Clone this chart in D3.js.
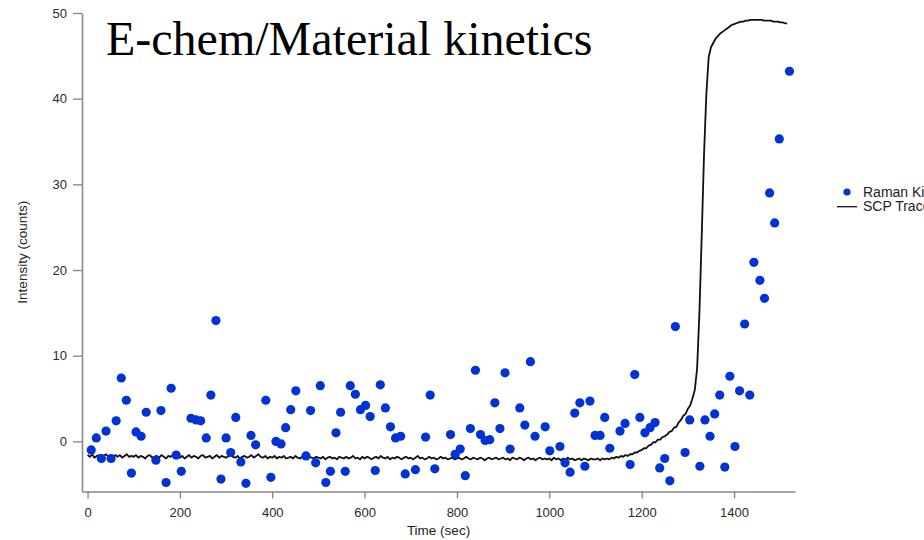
<!DOCTYPE html>
<html>
<head>
<meta charset="utf-8">
<script src="https://cdn.jsdelivr.net/npm/d3@7"></script>
<style>
  html, body { margin: 0; padding: 0; background: #fff; }
  svg { display: block; }
</style>
</head>
<body>
<svg id="chart" width="924" height="540"></svg>
<script>
// Raman kinetics: sample times (sec) and intensities (counts)
const ramanTime = [
  8, 19, 30, 40, 51, 62, 73, 84, 95, 105, 116, 127, 148, 159, 170, 181, 192, 203,
  224, 235, 245, 257, 267, 278, 289, 300, 310, 321, 332, 343, 354, 364, 386, 397,
  408, 419, 429, 440, 451, 473, 483, 494, 504, 516, 526, 538, 548, 558, 569, 580,
  591, 602, 612, 623, 634, 645, 656, 667, 678, 688, 710, 732, 742, 752, 786, 796,
  807, 818, 829, 840, 851, 861, 871, 882, 893, 904, 915, 936, 947, 959, 969, 991,
  1001, 1023, 1034, 1045, 1055, 1066, 1077, 1088, 1099, 1110, 1120, 1131, 1153,
  1164, 1175, 1185, 1196, 1207, 1218, 1229, 1239, 1250, 1261, 1273, 1294, 1304,
  1326, 1337, 1348, 1358, 1369, 1380, 1391, 1402, 1412, 1423, 1434, 1443, 1456,
  1466, 1477, 1488, 1498, 1520
];
const ramanCounts = [
  -1.0, 0.4, -2.0, 1.2, -2.0, 2.4, 7.4, 4.8, -3.7, 1.1, 0.6, 3.4, -2.2, 3.6, -4.8, 6.2, -1.6, -3.5,
  2.7, 2.5, 2.4, 0.4, 5.4, 14.1, -4.4, 0.4, -1.3, 2.8, -2.4, -4.9, 0.7, -0.4, 4.8, -4.2,
  0.0, -0.3, 1.6, 3.7, 5.9, -1.7, 3.6, -2.5, 6.5, -4.8, -3.5, 1.0, 3.4, -3.5, 6.5, 5.5,
  3.7, 4.2, 2.9, -3.4, 6.6, 3.9, 1.7, 0.4, 0.6, -3.8, -3.3, 0.5, 5.4, -3.2, 0.8, -1.5,
  -0.9, -4.0, 1.5, 8.3, 0.8, 0.1, 0.2, 4.5, 1.5, 8.0, -0.9, 3.9, 1.9, 9.3, 0.6, 1.7,
  -1.1, -0.6, -2.5, -3.6, 3.3, 4.5, -2.9, 4.7, 0.7, 0.7, 2.8, -0.8, 1.2,
  2.1, -2.7, 7.8, 2.8, 1.0, 1.6, 2.2, -3.1, -2.0, -4.6, 13.4, -1.3, 2.5,
  -2.9, 2.5, 0.6, 3.2, 5.4, -3.0, 7.6, -0.6, 5.9, 13.7, 5.4, 20.9, 18.8,
  16.7, 29.0, 25.5, 35.3, 43.2
];

// SCP trace: one reading every 5 sec starting at 0 sec
const scpStart = 0;
const scpStep = 5;
const scpCounts = [
  -1.6,-1.8,-1.5,-1.9,-1.7,-1.6,-1.9,-1.7,-1.5,-1.8,-1.7,-1.9,-1.6,-1.8,-1.6,-1.9,-1.7,-1.5,-1.8,-1.7,
  -1.8,-1.6,-1.9,-1.7,-1.8,-2.0,-1.7,-1.6,-1.9,-1.8,-1.7,-1.9,-1.6,-1.8,-2.0,-1.7,-1.8,-1.6,-1.9,-1.8,
  -1.9,-1.7,-2.0,-1.8,-1.6,-1.9,-1.7,-1.8,-2.0,-1.7,-1.6,-1.9,-1.8,-1.7,-2.0,-1.8,-1.6,-1.9,-1.7,-1.8,
  -1.9,-1.7,-1.5,-1.8,-1.9,-1.7,-2.0,-1.8,-1.7,-1.9,-1.8,-1.6,-1.9,-1.7,-1.5,-1.8,-1.9,-1.7,-2.0,-1.8,
  -1.9,-1.7,-2.0,-1.8,-1.9,-1.7,-2.0,-1.9,-1.8,-2.0,-1.7,-1.9,-2.0,-1.8,-1.9,-2.1,-1.8,-1.9,-2.0,-1.8,
  -1.9,-2.0,-1.8,-2.1,-1.9,-1.8,-2.0,-1.9,-2.1,-1.8,-1.9,-2.0,-1.8,-2.0,-1.9,-1.7,-2.0,-1.9,-2.1,-1.8,
  -2.0,-1.8,-1.9,-2.1,-1.9,-1.8,-2.0,-1.7,-1.9,-2.0,-1.8,-2.1,-1.9,-2.0,-1.8,-1.9,-2.1,-1.9,-1.8,-2.0,
  -1.9,-2.1,-1.9,-1.7,-2.0,-1.9,-2.1,-2.0,-1.8,-2.0,-1.9,-2.1,-2.0,-1.8,-2.0,-1.9,-2.1,-2.0,-1.9,-2.1,
  -2.0,-1.9,-2.1,-2.0,-1.8,-2.0,-2.1,-1.9,-2.0,-2.1,-1.9,-2.0,-2.2,-2.0,-1.9,-2.1,-2.0,-1.9,-2.1,-2.0,
  -1.9,-2.1,-2.0,-2.2,-1.9,-2.0,-2.1,-1.9,-2.0,-2.2,-2.0,-1.9,-2.1,-2.0,-2.2,-2.0,-1.9,-2.1,-2.0,-2.1,
  -2.0,-2.2,-1.9,-2.1,-2.0,-2.2,-2.0,-2.1,-1.9,-2.1,-2.0,-2.2,-2.1,-2.0,-2.2,-2.0,-2.1,-2.2,-2.0,-2.1,
  -2.1,-2.0,-2.2,-2.0,-2.1,-2.0,-2.1,-1.9,-2.0,-1.8,-1.9,-1.7,-1.8,-1.6,-1.7,-1.5,-1.5,-1.3,-1.3,-1.1,
  -1.0,-0.8,-0.8,-0.5,-0.4,-0.1,-0.1, 0.2, 0.2, 0.5, 0.6, 0.8, 1.1, 1.2, 1.6, 1.7, 2.2, 2.5, 3.0, 3.2,
   3.8, 4.2, 5.0, 6.0, 8.5,15.0,24.0,33.5,40.5,44.8,46.0,46.5,47.0,47.3,47.6,47.8,48.0,48.2,48.4,48.6,
  48.7,48.8,48.9,49.0,49.0,49.1,49.1,49.2,49.2,49.2,49.2,49.2,49.2,49.1,49.1,49.1,49.1,49.0,49.0,49.0,
  48.9,48.9,48.8,48.8
];

const xTicks = [0, 200, 400, 600, 800, 1000, 1200, 1400];
const yTicks = [0, 10, 20, 30, 40, 50];

const titleText = "E-chem/Material kinetics";
const xTitle = "Time (sec)";
const yTitle = "Intensity (counts)";
const legendLabels = ["Raman Kinetics", "SCP Trace"];

const dotColor = "#0033d6";
const axisColor = "#8a8a8a";
const sans = "'Liberation Sans', Arial, Helvetica, sans-serif";

const svg = d3.select("#chart");
svg.append("rect").attr("width", 924).attr("height", 540).attr("fill", "#fff");

const x = d3.scaleLinear().domain([-12, 1532]).range([82, 795]);
const y = d3.scaleLinear().domain([-5.85, 50]).range([491.5, 13]);

// Axes
const gx = svg.append("g")
  .attr("transform", `translate(0,${y.range()[0]})`)
  .call(d3.axisBottom(x).tickValues(xTicks).tickFormat(d3.format("d"))
    .tickSize(7).tickSizeOuter(0).tickPadding(9));
const gy = svg.append("g")
  .attr("transform", `translate(${x.range()[0]},0)`)
  .call(d3.axisLeft(y).tickValues(yTicks).tickFormat(d3.format("d"))
    .tickSize(9).tickSizeOuter(0).tickPadding(6));

[gx, gy].forEach(g => {
  g.select(".domain").attr("stroke", axisColor).attr("stroke-width", 1.6);
  g.selectAll(".tick line").attr("stroke", axisColor).attr("stroke-width", 1.4);
  g.selectAll(".tick text")
    .attr("fill", "#2a2a2a")
    .style("font-family", sans)
    .style("font-size", "13px");
});

// Axis titles
svg.append("text")
  .attr("x", (x.range()[0] + x.range()[1]) / 2)
  .attr("y", 535)
  .attr("text-anchor", "middle")
  .attr("fill", "#222")
  .style("font-family", sans)
  .style("font-size", "13.5px")
  .text(xTitle);

svg.append("text")
  .attr("transform", `translate(26.5,${(y.range()[0] + y.range()[1]) / 2}) rotate(-90)`)
  .attr("text-anchor", "middle")
  .attr("fill", "#222")
  .style("font-family", sans)
  .style("font-size", "13.5px")
  .text(yTitle);

// SCP trace line
const scpData = scpCounts.map((v, i) => ({ t: scpStart + i * scpStep, v }));
const line = d3.line()
  .x(d => x(d.t))
  .y(d => y(d.v));

svg.append("path")
  .datum(scpData)
  .attr("fill", "none")
  .attr("stroke", "#111")
  .attr("stroke-width", 1.8)
  .attr("stroke-linejoin", "round")
  .attr("d", line);

// Raman kinetics points
const ramanData = ramanTime.map((t, i) => ({ t, v: ramanCounts[i] }));
svg.append("g")
  .selectAll("circle")
  .data(ramanData)
  .join("circle")
  .attr("cx", d => x(d.t))
  .attr("cy", d => y(d.v))
  .attr("r", 4.6)
  .attr("fill", dotColor);

// Title
svg.append("text")
  .attr("x", 106)
  .attr("y", 55)
  .attr("fill", "#000")
  .style("font-family", "'Liberation Serif', 'Times New Roman', serif")
  .style("font-size", "48px")
  .text(titleText);

// Legend (runs past the right edge of the canvas)
const legend = svg.append("g").attr("transform", "translate(837,0)");
legend.append("circle")
  .attr("cx", 10).attr("cy", 192).attr("r", 3.6)
  .attr("fill", dotColor);
legend.append("line")
  .attr("x1", 0).attr("x2", 20).attr("y1", 206.7).attr("y2", 206.7)
  .attr("stroke", "#111").attr("stroke-width", 1.3);
legend.selectAll("text.lab")
  .data(legendLabels)
  .join("text")
  .attr("class", "lab")
  .attr("x", 26)
  .attr("y", (d, i) => 197 + i * 14.3)
  .attr("fill", "#222")
  .style("font-family", sans)
  .style("font-size", "14px")
  .text(d => d);
</script>
</body>
</html>
